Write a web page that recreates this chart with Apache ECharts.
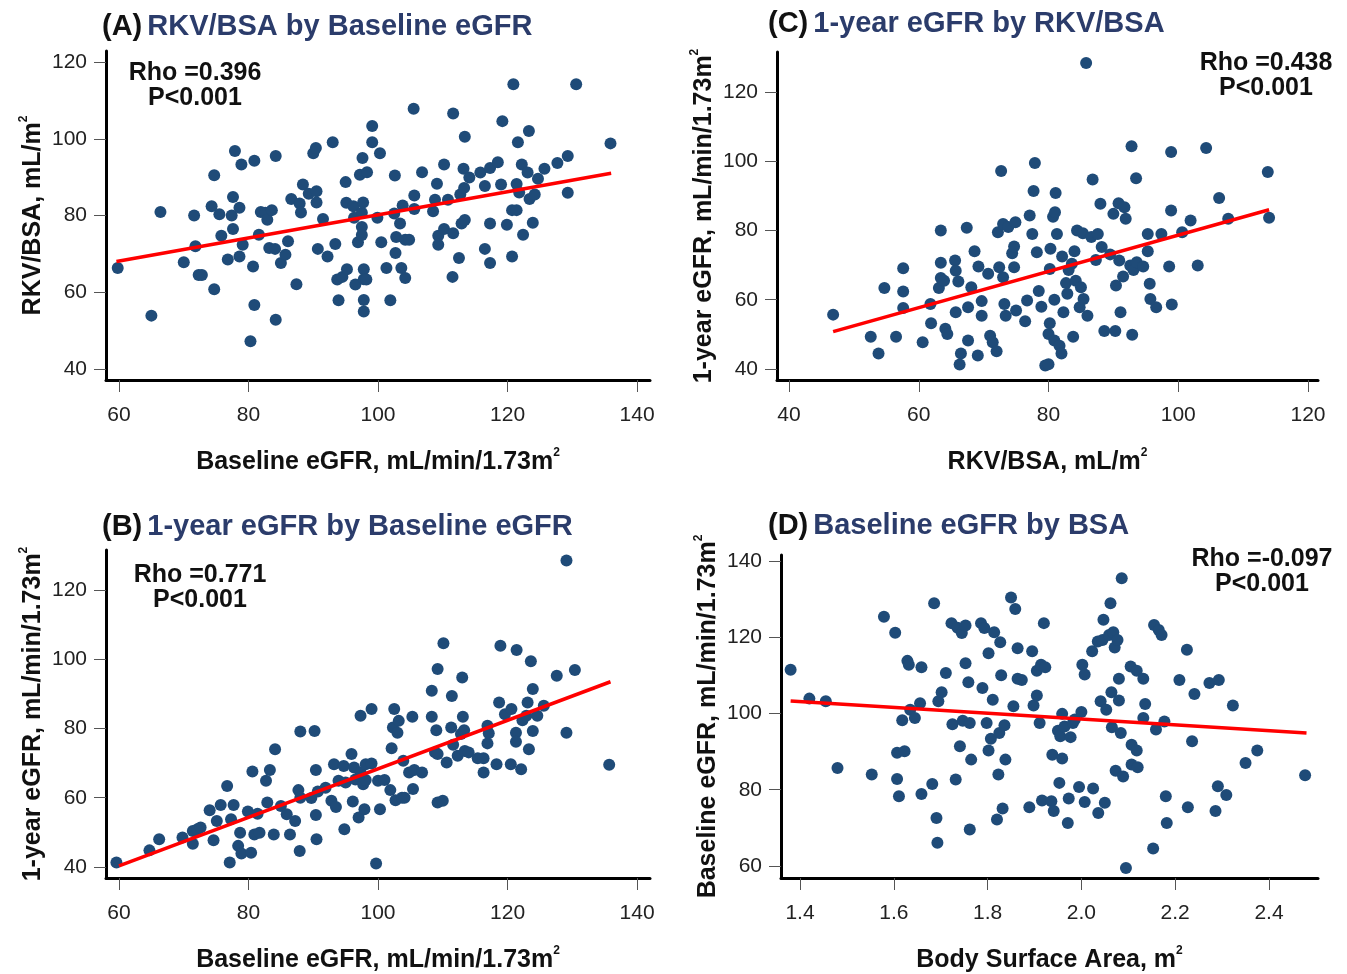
<!DOCTYPE html>
<html>
<head>
<meta charset="utf-8">
<script src="https://cdn.jsdelivr.net/npm/echarts@6/dist/echarts.min.js"></script>
<style>
html,body{margin:0;padding:0;background:#fff;}
#main{width:1347px;height:974px;}
</style>
</head>
<body>
<div id="main"></div>
<script>
// (A) baseline eGFR vs RKV/BSA
var pointsA = [[59.8,66.3],[65,53.9],[66.4,80.9],[70,67.8],[71.6,80],[71.8,72],[72.3,64.5],[72.8,64.5],[74.3,82.4],[74.7,90.5],[74.7,60.8],[75.5,80.3],[75.8,74.7],[76.8,68.5],[77.4,80],[77.6,84.8],[77.6,76.5],[77.9,96.8],[78.6,82],[78.6,69.3],[78.9,93.3],[79.1,72.4],[80.3,47.2],[80.7,66.7],[80.9,94.3],[80.9,56.7],[81.6,75],[81.9,80.9],[82.6,80.7],[82.9,78.9],[83.2,71.5],[83.6,81.4],[84.1,71.3],[84.2,95.5],[84.2,52.8],[85,67.6],[85.7,69.8],[86.1,73.3],[86.6,84.3],[87.4,62.1],[87.9,83.1],[88.1,80.8],[88.4,88.1],[89.3,85.7],[90,96.2],[90.4,97.6],[90.5,86.3],[90.5,83.4],[90.7,71.3],[91.5,79.1],[92.2,69.3],[93,99.1],[93.4,72.6],[93.7,63.3],[93.9,57.9],[94.5,64],[95,88.7],[95.1,83.3],[95.2,66],[96.2,82.4],[96.3,79.4],[96.5,62],[96.9,73],[97.2,90.6],[97.5,80.7],[97.5,77],[97.5,74.9],[97.6,95],[97.7,83.4],[97.8,66],[97.8,63.4],[97.8,58],[97.8,55],[98.2,63.3],[98.3,91.3],[99.1,103.3],[99.1,99.1],[99.9,79.4],[100.3,96.2],[100.5,73],[101.3,66.3],[101.9,57.9],[102.5,80.5],[102.6,90.4],[102.7,70.2],[102.8,74.4],[103.4,77.9],[103.6,66.3],[103.8,82.6],[104.2,63.7],[104.2,73.7],[104.8,73.7],[105.5,107.8],[105.6,85.2],[105.6,81.7],[106.8,91.3],[108.5,81.1],[108.8,84.1],[109.1,88.3],[109.3,74.7],[109.3,72.4],[110.2,93.3],[110.2,76.5],[110.8,84.1],[111.5,64],[111.6,106.6],[111.6,75.4],[112.5,68.9],[112.7,85.5],[112.9,77.9],[113.2,92.2],[113.3,87.2],[113.4,100.5],[113.4,78.8],[114.1,89.9],[115.8,91.2],[116.5,87.7],[116.5,71.3],[117.3,77.9],[117.3,67.6],[117.3,92.4],[118.5,93.9],[119,88.1],[119.2,104.6],[119.9,77.6],[120.7,81.4],[120.7,69.3],[120.9,114.2],[121.4,81.4],[121.4,88.2],[121.6,99.1],[121.8,86],[122.2,93.3],[122.4,75],[123.1,91.2],[123.3,102],[123.4,84.3],[123.9,78.1],[124.2,85.5],[124.7,89.6],[125.7,92.2],[127.7,93.7],[129.3,95.5],[129.3,85.9],[130.6,114.2],[135.9,98.8]];
var fitA = [[59.6,68.0],[136,91.0]];

// (B) baseline eGFR vs 1-year eGFR
var pointsB = [[59.6,41.3],[64.7,44.8],[66.2,48],[69.8,48.5],[71.4,46.7],[71.4,50.4],[72.1,50.9],[72.6,51.4],[74,56.4],[74.6,47.7],[75.1,53.3],[75.7,57.9],[76.7,63.4],[77.1,41.3],[77.3,53.8],[77.7,57.9],[78.4,46.1],[78.7,49.9],[78.9,43.9],[79.9,56],[80.4,44.1],[80.6,67.6],[80.9,49.4],[81.4,55.4],[81.7,49.9],[82.7,64.9],[82.9,58.6],[83.3,68],[83.9,49.4],[84.1,74],[85,57.6],[85.9,55.2],[86.4,49.4],[87.2,53.3],[87.7,62.2],[87.9,44.6],[88,79.1],[88,60],[89.7,59.9],[90.2,79.3],[90.4,68],[90.4,55],[90.5,48],[90.7,61.8],[91.9,62.9],[92.8,59.1],[93.2,69.7],[93.5,57.3],[93.9,64.9],[94.7,69.2],[94.8,50.9],[95,64.4],[95.9,72.6],[96.1,58.9],[96.3,68.7],[96.5,65.3],[97,54.3],[97.3,83.7],[97.3,67.3],[97.7,63.9],[97.9,56.7],[98.1,69.7],[98.1,65.1],[99,85.6],[99,69.9],[99.7,41],[100,64.9],[100.3,56.7],[101,65.1],[101.9,62.2],[102.1,74.3],[102.3,80.3],[102.5,85.6],[102.7,59.3],[103,78.8],[103.2,82.2],[103.7,60],[103.9,70.7],[104.1,60],[104.8,67.3],[105.3,83.4],[105.4,62.5],[105.6,68],[106.8,67.3],[108.3,90.9],[108.3,83.4],[108.8,73.1],[109,79.5],[109.2,97.2],[109.2,72.6],[109.2,58.6],[110,59.1],[110.1,104.6],[110.6,70.2],[111.3,80.3],[111.4,89.4],[111.6,75.3],[112.3,72.1],[112.8,78.4],[113,94.7],[113.1,83.4],[113.3,79.5],[113.4,73.5],[114,73.1],[115.4,71.4],[116.3,71.4],[116.3,67.3],[116.9,80.8],[116.9,75.7],[117.1,78.6],[118.3,69.7],[118.7,87.5],[118.9,103.9],[119.6,84.1],[120.5,69.7],[120.6,85.6],[121.3,78.8],[121.3,76.2],[121.4,102.7],[122.1,68.2],[122.3,82.4],[122.9,83.7],[123.1,87.5],[123.3,74],[123.6,99.4],[123.9,91.4],[123.9,79.3],[124.6,83.7],[125.6,86.6],[127.6,95.2],[129.1,128.5],[129.1,78.8],[130.4,96.9],[135.7,69.5]];
var fitB = [[60,40.3],[135.9,93.5]];

// (C) RKV/BSA vs 1-year eGFR
var pointsC = [[46.8,55.7],[52.6,49.3],[53.8,44.5],[54.7,63.4],[56.5,49.3],[57.6,69.1],[57.6,62.4],[57.6,57.6],[60.6,47.7],[61.8,58.8],[61.9,53.2],[63.1,63.4],[63.4,80],[63.4,70.7],[63.4,66.3],[63.9,65.5],[64.1,51.6],[64.4,50.1],[65.6,71.3],[65.7,68.4],[65.7,56.4],[66.1,65.3],[66.3,41.3],[66.5,44.5],[67.4,80.8],[67.6,57.8],[67.6,48.2],[68.1,63.6],[68.6,74],[69.1,43.9],[69.2,69.6],[69.7,59.6],[69.7,55.4],[70.7,67.5],[71,49.6],[71.4,47.7],[72,45.1],[72.2,79.5],[72.4,69.4],[72.7,97.2],[73,81.9],[73,66.5],[73.2,58.8],[73.4,55.4],[73.8,81],[74.4,73.4],[74.7,75.4],[74.7,69.4],[74.9,82.4],[75,56.9],[76.4,53.8],[76.7,59.8],[77.1,84.3],[77.5,79],[77.7,91.4],[77.9,99.5],[78.2,73.7],[78.5,62.5],[78.9,58],[79.5,41],[80,41.4],[80,50.1],[80.2,68.9],[80.2,53.2],[80.3,74.7],[80.7,84],[80.9,60],[80.9,48.2],[81,85.3],[81.1,90.8],[81.3,79],[81.7,46.7],[82,44.5],[82.1,72.5],[82.3,56.4],[82.7,64.8],[82.9,61.7],[83.1,68.6],[83.6,70.4],[83.8,49.3],[84,74],[84.2,65.5],[84.4,80],[84.8,57.8],[85,63.6],[85.3,79.2],[85.4,60.2],[85.8,128.4],[86,55.4],[86.6,78.1],[86.8,94.7],[87.3,71.5],[87.6,79],[88,87.7],[88.2,75.2],[88.6,51],[89.5,73.1],[90,84.8],[90.3,51],[90.4,64.1],[90.8,87.9],[90.9,71.3],[91.1,56.4],[91.5,66.7],[91.7,86.7],[91.9,83.4],[92.6,69.9],[92.8,104.3],[92.9,49.9],[93.1,68.6],[93.5,95.1],[93.6,70.8],[94.6,69.6],[95.3,74],[95.3,79],[95.6,64.6],[95.7,60.2],[96.6,57.8],[97.4,79],[98.6,69.6],[98.9,85.8],[98.9,102.7],[99,58.6],[100.6,79.5],[101.9,82.9],[103,69.9],[104.3,103.8],[106.3,89.4],[107.7,83.4],[113.8,96.9],[114,83.7]];
var fitC = [[46.8,50.8],[114,86.0]];

// (D) BSA vs baseline eGFR
var pointsD = [[1.380,111.5],[1.420,103.9],[1.455,103.2],[1.480,85.7],[1.553,84],[1.579,125.4],[1.603,121.2],[1.607,89.7],[1.607,82.8],[1.611,78.3],[1.618,98.2],[1.623,90.1],[1.629,113.8],[1.632,112.8],[1.635,101],[1.645,98.8],[1.656,102.7],[1.659,112.1],[1.659,78.9],[1.682,81.5],[1.686,128.9],[1.691,72.6],[1.693,66.1],[1.695,103.2],[1.702,105.6],[1.711,110.6],[1.723,123.7],[1.725,97.2],[1.732,82.7],[1.736,122.5],[1.741,91.4],[1.745,121.1],[1.747,98.1],[1.753,123.1],[1.753,113.2],[1.759,108.2],[1.762,97.5],[1.762,69.6],[1.765,87.9],[1.786,123.7],[1.789,106.7],[1.793,122.4],[1.798,97.5],[1.802,115.8],[1.802,90.3],[1.807,93.4],[1.811,103.6],[1.814,121.3],[1.820,72.2],[1.823,84],[1.825,94.9],[1.827,118.7],[1.829,110],[1.832,75.1],[1.836,96.9],[1.838,87.9],[1.850,130.4],[1.855,101.9],[1.859,127.4],[1.864,117.1],[1.864,109.1],[1.873,108.8],[1.889,75.4],[1.895,116.3],[1.898,102.1],[1.905,111.2],[1.905,104.7],[1.911,97.5],[1.914,112.8],[1.916,77.2],[1.920,123.7],[1.923,112.1],[1.936,77],[1.938,89.2],[1.941,74.4],[1.950,95.5],[1.953,81.8],[1.955,94],[1.959,99.9],[1.959,88.2],[1.964,96.6],[1.971,71.3],[1.973,77.7],[1.977,93.8],[1.982,97.5],[1.986,98.4],[1.995,80.7],[2.000,100.4],[2.002,112.8],[2.007,76.8],[2.007,110.2],[2.023,116.3],[2.025,80.3],[2.035,118.9],[2.036,73.9],[2.041,103.2],[2.045,119.3],[2.047,124.6],[2.050,76.6],[2.053,101],[2.059,120.6],[2.062,128.9],[2.064,105.6],[2.065,96.4],[2.068,121.3],[2.071,117.3],[2.073,85],[2.077,119.3],[2.080,109.1],[2.080,103.4],[2.084,94.9],[2.086,135.5],[2.089,83.5],[2.095,59.5],[2.105,112.3],[2.107,91.8],[2.107,86.6],[2.118,111.2],[2.118,90.3],[2.120,85.9],[2.132,109.1],[2.132,98.8],[2.136,102.5],[2.153,64.6],[2.155,123.2],[2.159,95.8],[2.165,121.9],[2.171,120.6],[2.177,97.9],[2.180,78.3],[2.182,71.3],[2.209,108.8],[2.225,116.7],[2.227,75.4],[2.236,92.7],[2.241,105.1],[2.273,108],[2.286,74.4],[2.291,80.9],[2.293,108.8],[2.309,78.6],[2.323,102.1],[2.350,87],[2.375,90.3],[2.477,83.8]];
var fitD = [[1.38,103.3],[2.48,94.9]];

// tick values
var ticksEgfrX = [60, 80, 100, 120, 140];
var ticksRkvY = [40, 60, 80, 100, 120];
var ticksRkvX = [40, 60, 80, 100, 120];
var ticksEgfr1y = [40, 60, 80, 100, 120];
var ticksBsa = [1.4, 1.6, 1.8, 2.0, 2.2, 2.4];
var ticksEgfrY = [60, 80, 100, 120, 140];

var titles = ['RKV/BSA by Baseline eGFR', '1-year eGFR by Baseline eGFR', '1-year eGFR by RKV/BSA', 'Baseline eGFR by BSA'];
var rhoText = ['Rho =0.396', 'Rho =0.771', 'Rho =0.438', 'Rho =-0.097'];
var pText = 'P<0.001';

var FONT = "'Liberation Sans', Arial, Helvetica, sans-serif";
var DOT = '#1f4b78';

function axisName(txt){
	return '{n|' + txt + '}{s|2}';
}

function makeAxis(gi, min, max, ticks, name, gap, margin, dec){
	return {
		type: 'value',
		gridIndex: gi,
		min: min,
		max: max,
		name: axisName(name),
		nameLocation: 'middle',
		nameGap: gap,
		nameTextStyle: {
			rich: {
				n: {fontFamily: FONT, fontSize: 25, fontWeight: 'bold', color: '#111', lineHeight: 30},
				s: {fontFamily: FONT, fontSize: 12, fontWeight: 'bold', color: '#111', lineHeight: 12, verticalAlign: 'top'}
			}
		},
		axisLine: {show: true, onZero: false, lineStyle: {color: '#000', width: 3}},
		axisTick: {show: true, customValues: ticks, length: 12, lineStyle: {color: '#555', width: 1}},
		axisLabel: {
			customValues: ticks,
			color: '#222',
			fontFamily: FONT,
			fontSize: 21,
			margin: margin,
			formatter: function(v){ return dec ? v.toFixed(1) : String(v); }
		},
		splitLine: {show: false}
	};
}

function scatterSeries(gi, pts){
	return {
		type: 'scatter',
		xAxisIndex: gi,
		yAxisIndex: gi,
		data: pts,
		symbolSize: 12,
		itemStyle: {color: DOT, opacity: 1},
		z: 2
	};
}

function fitSeries(gi, pts){
	return {
		type: 'line',
		xAxisIndex: gi,
		yAxisIndex: gi,
		data: pts,
		showSymbol: false,
		symbol: 'none',
		lineStyle: {color: '#ff0000', width: 3.5},
		z: 3
	};
}

function panelTitle(letter, txt, left, top){
	return {
		text: '{k|(' + letter + ')}{t|' + txt + '}',
		left: left,
		top: top,
		padding: 0,
		textStyle: {
			rich: {
				k: {fontFamily: FONT, fontSize: 29, fontWeight: 'bold', color: '#111', padding: [0, 5, 0, 0]},
				t: {fontFamily: FONT, fontSize: 29, fontWeight: 'bold', color: '#2b3c6b'}
			}
		}
	};
}

function rhoTitle(txt, cx, top){
	return {
		text: txt + '\n' + pText,
		left: cx,
		top: top,
		textAlign: 'center',
		padding: 0,
		textStyle: {fontFamily: FONT, fontSize: 25, fontWeight: 'bold', color: '#111', lineHeight: 25}
	};
}

var chart = echarts.init(document.getElementById('main'));
var option = {
	animation: false,
	backgroundColor: '#fff',
	title: [
		panelTitle('A', titles[0], 102, 12),
		panelTitle('B', titles[1], 102, 512),
		panelTitle('C', titles[2], 768, 9),
		panelTitle('D', titles[3], 768, 511),
		rhoTitle(rhoText[0], 195, 61),
		rhoTitle(rhoText[1], 200, 563),
		rhoTitle(rhoText[2], 1266, 51),
		rhoTitle(rhoText[3], 1262, 547)
	],
	grid: [
		{left: 106, top: 51, width: 544, height: 329, outerBoundsMode: 'none'},
		{left: 106, top: 550, width: 544, height: 328, outerBoundsMode: 'none'},
		{left: 777, top: 52, width: 541, height: 328, outerBoundsMode: 'none'},
		{left: 781, top: 555, width: 537, height: 323, outerBoundsMode: 'none'}
	],
	xAxis: [
		makeAxis(0, 57.99, 142.0, ticksEgfrX, 'Baseline eGFR, mL/min/1.73m', 67, 25),
		makeAxis(1, 57.99, 142.0, ticksEgfrX, 'Baseline eGFR, mL/min/1.73m', 67, 25),
		makeAxis(2, 38.15, 121.54, ticksRkvX, 'RKV/BSA, mL/m', 67, 25),
		makeAxis(3, 1.3595, 2.5045, ticksBsa, 'Body Surface Area, m', 67, 25, true)
	],
	yAxis: [
		makeAxis(0, 37.12, 122.88, ticksRkvY, 'RKV/BSA, mL/m', 58, 19),
		makeAxis(1, 36.82, 131.55, ticksEgfr1y, '1-year eGFR, mL/min/1.73m', 58, 19),
		makeAxis(2, 36.82, 131.55, ticksEgfr1y, '1-year eGFR, mL/min/1.73m', 58, 19),
		makeAxis(3, 56.85, 141.57, ticksEgfrY, 'Baseline eGFR, mL/min/1.73m', 58, 19)
	],
	series: [
		scatterSeries(0, pointsA), fitSeries(0, fitA),
		scatterSeries(1, pointsB), fitSeries(1, fitB),
		scatterSeries(2, pointsC), fitSeries(2, fitC),
		scatterSeries(3, pointsD), fitSeries(3, fitD)
	]
};
chart.setOption(option);
</script>
</body>
</html>
